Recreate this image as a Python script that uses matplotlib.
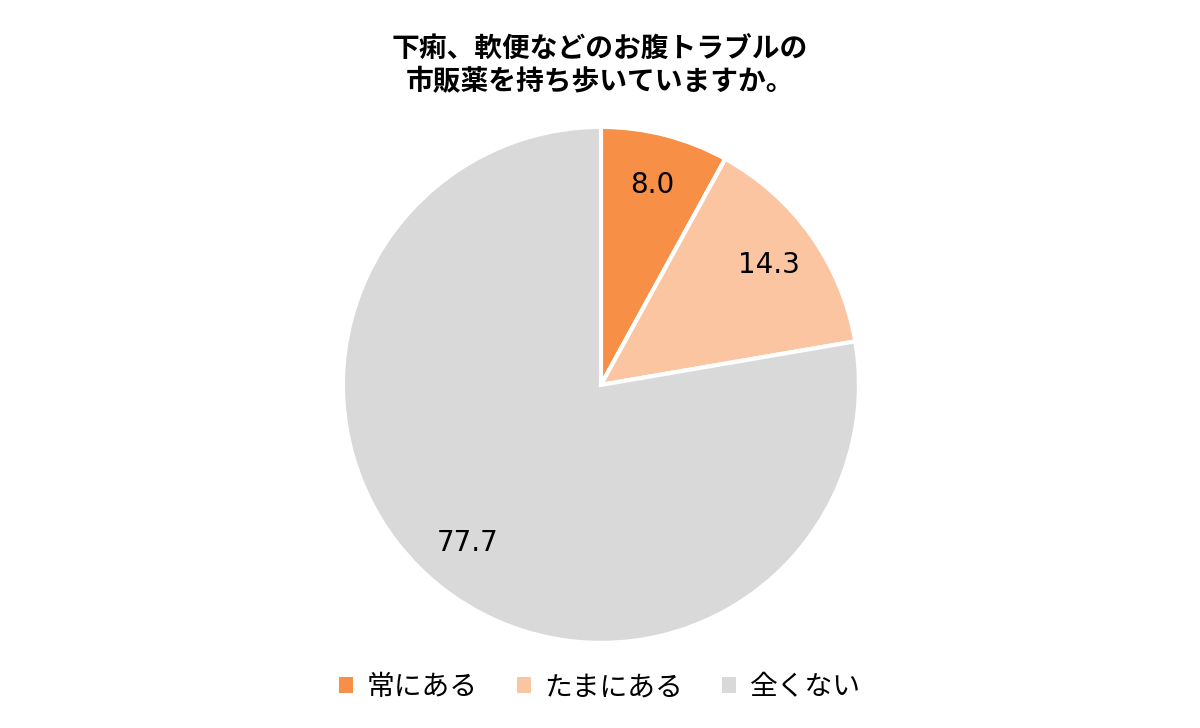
import matplotlib.pyplot as plt
from matplotlib.patches import Patch

plt.rcParams['font.family'] = 'Noto Sans CJK JP'

labels = ['常にある', 'たまにある', '全くない']
values = [8.0, 14.3, 77.7]
colors = ['#F79046', '#FBC5A1', '#D9D9D9']

fig = plt.figure(figsize=(12, 7.28), dpi=100)
ax = fig.add_axes([0.2858, 0.1168, 0.43, 0.709])

wedges, texts, autotexts = ax.pie(
    values, colors=colors, startangle=90, counterclock=False,
    autopct=lambda p: f'{p:.1f}', pctdistance=0.8,
    wedgeprops=dict(edgecolor='white', linewidth=3),
    textprops=dict(fontsize=20, color='black', fontfamily='DejaVu Sans'))
ax.set_xlim(-1, 1)
ax.set_ylim(-1, 1)
ax.set_aspect('equal')

fig.text(0.5, 0.91, '下痢、軟便などのお腹トラブルの\n市販薬を持ち歩いていますか。',
         ha='center', va='center', fontsize=20, fontweight='bold', linespacing=1.25)

handles = [Patch(facecolor=c, label=l) for c, l in zip(colors, labels)]
fig.legend(handles=handles, loc='center', bbox_to_anchor=(0.5, 0.056), ncol=3,
           frameon=False, fontsize=20, handlelength=0.5, handleheight=0.5,
           columnspacing=1.4, handletextpad=0.5)

fig.savefig('out.png', dpi=100)
